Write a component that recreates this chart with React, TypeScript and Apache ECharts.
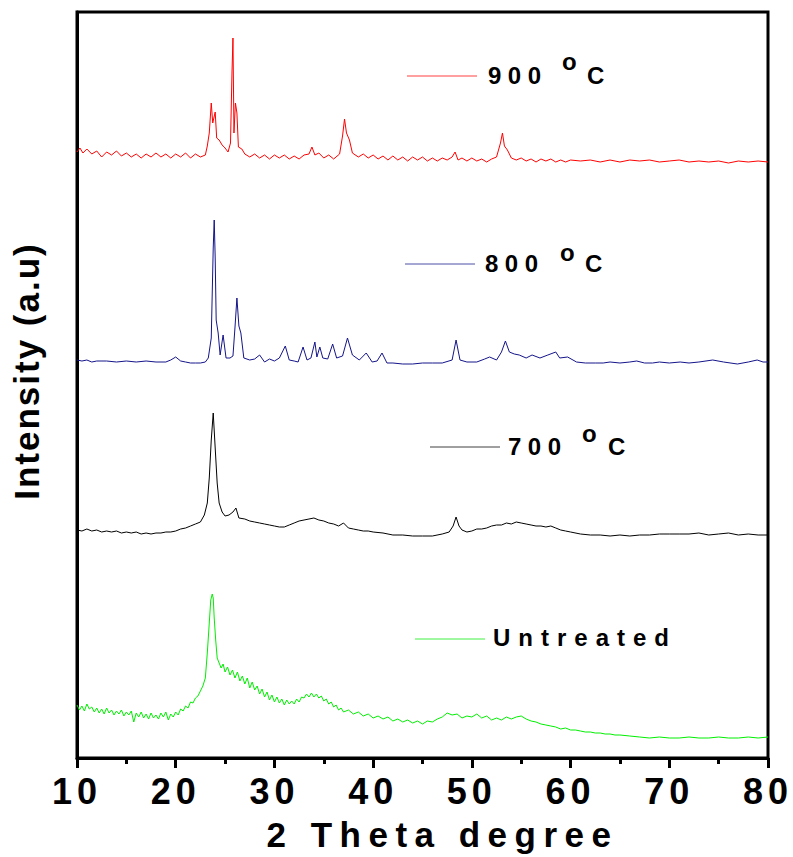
import React, { useEffect, useRef } from 'react';
import * as echarts from 'echarts';

// ---- data (x = 2θ in degrees, y = intensity in a.u., traces stacked) ----
const X_MIN = 10;
const X_MAX = 80;
const X_STEP = 10;
const X_TITLE = '2 Theta degree';
const Y_TITLE = 'Intensity (a.u)';
const SERIES_NAMES = ['900 °C', '800 °C', '700 °C', 'Untreated'];
const TEMP_LABELS = ['900', '800', '700'];
const UNTREATED_LABEL = 'Untreated';

const untreated: [number, number][] = [
  [10, 53], [10.25, 48], [10.5, 52], [10.75, 47], [11, 54], [11.25, 49], [11.5, 51], [11.75, 46],
  [12, 50], [12.25, 45], [12.5, 49], [12.75, 44], [13, 50], [13.25, 45], [13.5, 48], [13.75, 43],
  [14, 47], [14.25, 44], [14.5, 48], [14.75, 42], [15, 46], [15.25, 43], [15.5, 47], [15.75, 36],
  [16, 45], [16.25, 41], [16.5, 46], [16.75, 40], [17, 44], [17.25, 39], [17.5, 45], [17.75, 40],
  [18, 43], [18.25, 39], [18.5, 45], [18.75, 41], [19, 46], [19.25, 38], [19.5, 44], [19.75, 41],
  [20, 46], [20.25, 43], [20.5, 49], [20.75, 47], [21, 52], [21.25, 50], [21.5, 56], [21.75, 55],
  [22, 60], [22.25, 62], [22.5, 67], [22.75, 72], [23, 80], [23.2, 105], [23.4, 135], [23.55, 158],
  [23.7, 164], [23.8, 160], [23.9, 140], [24.05, 118], [24.2, 100], [24.4, 95], [24.6, 90], [24.8, 94],
  [25, 86], [25.25, 91], [25.5, 83], [25.75, 88], [26, 80], [26.25, 86], [26.5, 77], [26.75, 82],
  [27, 74], [27.25, 80], [27.5, 70], [27.75, 76], [28, 68], [28.25, 72], [28.5, 64], [28.75, 69],
  [29, 61], [29.25, 66], [29.5, 58], [29.75, 63], [30, 56], [30.25, 61], [30.5, 55], [30.75, 59],
  [31, 53], [31.25, 58], [31.5, 54], [31.75, 57], [32, 54], [32.25, 59], [32.5, 56], [32.75, 61],
  [33, 60], [33.25, 64], [33.5, 61], [33.75, 65], [34, 61], [34.25, 64], [34.5, 60], [34.75, 62],
  [35, 57], [35.25, 59], [35.5, 54], [35.75, 56], [36, 51], [36.25, 53], [36.5, 48], [36.75, 50],
  [37, 46], [37.5, 48], [38, 44], [38.5, 46], [39, 42], [39.5, 44], [40, 40], [40.5, 42],
  [41, 39], [41.5, 41], [42, 37], [42.5, 39], [43, 36], [43.5, 38], [44, 35], [44.5, 37],
  [45, 34], [45.5, 37], [46, 36], [46.5, 39], [47, 41], [47.5, 45], [48, 43], [48.5, 44],
  [49, 40], [49.5, 42], [50, 41], [50.5, 44], [51, 40], [51.5, 42], [52, 38], [52.5, 40],
  [53, 38], [53.5, 41], [54, 39], [54.5, 41], [55, 42], [55.5, 39], [56, 37], [56.5, 36],
  [57, 34], [57.5, 33], [58, 32], [58.5, 31], [59, 29], [59.5, 30], [60, 28], [60.5, 28],
  [61, 27], [61.5, 26], [62, 26], [62.5, 25], [63, 25], [63.5, 24], [64, 24], [64.5, 23],
  [65, 23], [66, 22], [67, 21], [68, 20], [69, 21], [70, 20], [71, 20], [72, 21],
  [73, 20], [74, 20], [75, 21], [76, 20], [77, 20], [78, 21], [79, 20], [80, 21],
];

const t700: [number, number][] = [
  [10, 228], [10.5, 227], [11, 229], [11.5, 227], [12, 228], [12.5, 226], [13, 227], [13.5, 226],
  [14, 227], [14.5, 225], [15, 226], [15.5, 225], [16, 226], [16.5, 224], [17, 225], [17.5, 224],
  [18, 225], [18.5, 225], [19, 226], [19.5, 226], [20, 227], [20.5, 229], [21, 230], [21.5, 232],
  [22, 234], [22.5, 236], [22.9, 243], [23.2, 255], [23.4, 280], [23.6, 318], [23.8, 345], [24.0, 310],
  [24.2, 275], [24.4, 255], [24.7, 246], [25, 242], [25.4, 243], [25.8, 246], [26.1, 250], [26.4, 240],
  [27, 239], [27.5, 237], [28, 236], [28.5, 235], [29, 234], [29.5, 233], [30, 232], [30.5, 231],
  [31, 231], [31.5, 233], [32, 235], [32.5, 237], [33, 238], [33.5, 239], [34, 240], [34.5, 238],
  [35, 237], [35.5, 235], [36, 234], [36.5, 232], [37, 235], [37.5, 230], [38, 229], [38.5, 228],
  [39, 227], [39.5, 227], [40, 226], [41, 225], [42, 223], [43, 223], [44, 222], [45, 222],
  [46, 222], [47, 224], [47.7, 226], [48.1, 232], [48.4, 241], [48.7, 232], [49, 228], [49.5, 226],
  [50, 227], [50.5, 229], [51, 229], [51.5, 230], [52, 232], [52.5, 233], [53, 233], [53.5, 235],
  [54, 234], [54.5, 236], [55, 235], [55.5, 234], [56, 233], [56.5, 232], [57, 232], [57.5, 231],
  [58, 232], [58.5, 230], [59, 228], [59.5, 227], [60, 226], [61, 224], [62, 223], [63, 223],
  [64, 222], [65, 223], [66, 222], [67, 223], [68, 223], [69, 224], [70, 224], [71, 224],
  [72, 224], [73, 225], [74, 223], [75, 224], [76, 225], [77, 223], [78, 224], [79, 223], [80, 223],
];

const t800: [number, number][] = [
  [10, 398], [10.5, 397], [11, 398], [11.5, 396], [12, 397], [13, 397], [14, 396], [15, 397],
  [16, 396], [17, 397], [18, 396], [19, 396], [19.5, 398], [20, 401], [20.5, 397], [21, 396],
  [21.5, 395], [22, 395], [22.5, 395], [23, 396], [23.3, 400], [23.6, 420], [23.8, 510], [23.9, 538],
  [24.0, 500], [24.1, 438], [24.3, 425], [24.5, 403], [24.8, 423], [25.1, 400], [25.5, 400], [25.8, 402],
  [26.0, 430], [26.2, 460], [26.4, 432], [26.6, 425], [26.9, 400], [27.5, 398], [28, 399], [28.5, 403],
  [29, 396], [29.5, 399], [30, 397], [30.5, 400], [31.1, 412], [31.5, 398], [32, 397], [32.4, 396],
  [32.9, 411], [33.3, 398], [33.7, 400], [34.1, 416], [34.3, 401], [34.6, 411], [34.9, 400], [35.4, 399],
  [35.9, 414], [36.3, 400], [36.9, 402], [37.4, 420], [37.9, 403], [38.6, 398], [39.3, 405], [39.9, 396],
  [40.4, 397], [40.9, 405], [41.4, 395], [42, 395], [43, 394], [44, 394], [45, 395], [46, 395],
  [47, 395], [48, 398], [48.4, 418], [48.8, 398], [49.5, 396], [50.5, 396], [51.3, 399], [51.8, 401],
  [52.5, 398], [53, 406], [53.4, 417], [53.8, 406], [54.3, 404], [54.8, 403], [55.5, 400], [56.1, 403],
  [56.9, 400], [57.7, 403], [58.5, 406], [58.9, 400], [59.7, 401], [60.6, 396], [61.5, 395], [62.5, 395],
  [63.3, 395], [64, 396], [65, 395], [66, 396], [66.7, 397], [67.5, 395], [68.3, 395], [69, 396],
  [70, 395], [71.1, 396], [72, 395], [73, 396], [74.4, 398], [75.5, 396], [76.9, 394], [78, 396],
  [78.9, 398], [79.5, 396], [80, 396],
];

const t900: [number, number][] = [
  [10, 606], [10.3, 610], [10.6, 605], [11, 609], [11.5, 604], [12, 607], [12.5, 601], [13, 606],
  [13.5, 603], [14, 607], [14.5, 602], [15, 605], [15.5, 601], [16, 604], [16.5, 600], [17, 604],
  [17.5, 601], [18, 605], [18.5, 601], [19, 604], [19.5, 600], [20, 604], [20.5, 601], [21, 605],
  [21.5, 600], [22, 604], [22.5, 601], [23, 603], [23.2, 612], [23.4, 625], [23.6, 655], [23.75, 635],
  [24.0, 646], [24.15, 620], [24.4, 618], [24.7, 613], [25, 610], [25.3, 606], [25.55, 615], [25.7, 685],
  [25.8, 720], [25.9, 625], [26.05, 655], [26.2, 645], [26.35, 611], [26.7, 609], [27, 604], [27.5, 601],
  [28, 604], [28.5, 600], [29, 603], [29.5, 599], [30, 603], [30.5, 600], [31, 603], [31.5, 599],
  [32, 602], [32.5, 599], [33, 603], [33.5, 604], [33.8, 611], [34.1, 603], [34.5, 605], [35, 600],
  [35.5, 603], [36, 599], [36.6, 604], [36.9, 622], [37.1, 639], [37.3, 625], [37.6, 618], [37.9, 605],
  [38.5, 601], [39, 604], [39.5, 600], [40, 603], [40.5, 599], [41, 602], [41.5, 598], [42, 602],
  [42.5, 598], [43, 601], [43.5, 597], [44, 601], [44.5, 598], [45, 601], [45.5, 597], [46, 600],
  [46.5, 597], [47, 600], [47.5, 598], [48, 601], [48.3, 606], [48.6, 598], [49, 600], [49.5, 597],
  [50, 600], [50.5, 597], [51, 599], [51.5, 596], [52, 599], [52.5, 601], [52.9, 615], [53.1, 625],
  [53.3, 612], [53.6, 608], [54, 600], [54.5, 598], [55, 600], [55.5, 597], [56, 599], [56.5, 596],
  [57, 599], [57.5, 597], [58, 599], [58.5, 596], [59, 598], [59.5, 596], [60, 598], [61, 597],
  [62, 598], [63, 596], [64, 598], [65, 596], [66, 598], [67, 597], [68, 598], [69, 596],
  [70, 597], [71, 598], [72, 596], [73, 597], [74, 596], [75, 597], [76, 595], [77, 597],
  [78, 596], [79, 597], [80, 596],
];

const SERIES_DATA = [t900, t800, t700, untreated];
const SERIES_COLORS = ['#ff0000', '#14148a', '#000000', '#00ee00'];

export default function App() {
  const ref = useRef<HTMLDivElement>(null);

  useEffect(() => {
    const el = ref.current;
    if (!el) return;
    const chart = echarts.init(el, null, { renderer: 'svg' });
    const FONT = '"Liberation Sans", Arial, Helvetica, sans-serif';

    // legend layout (pixel placement of the in-plot labels)
    const legendLayout = [
      { y: 75, lx1: 407, lx2: 477, tx: 488, ox: 562, oy: 61, cx: 587 },
      { y: 263, lx1: 405, lx2: 475, tx: 485, ox: 560, oy: 252, cx: 585 },
      { y: 446, lx1: 430, lx2: 500, tx: 508, ox: 582, oy: 433, cx: 608 },
    ];

    const graphics: any[] = [];
    TEMP_LABELS.forEach((lab, i) => {
      const L = legendLayout[i];
      graphics.push({
        type: 'line', silent: true,
        shape: { x1: L.lx1, y1: L.y + 1, x2: L.lx2, y2: L.y + 1 },
        style: { stroke: SERIES_COLORS[i], lineWidth: 1, opacity: 0.75 },
      });
      graphics.push({
        type: 'text', silent: true, x: L.tx, y: L.y,
        style: { text: lab, font: `bold 24px ${FONT}`, fill: '#000', align: 'left', verticalAlign: 'middle' },
      });
      graphics.push({
        type: 'text', silent: true, x: L.ox, y: L.oy,
        style: { text: 'o', font: `bold 24px ${FONT}`, fill: '#000', align: 'left', verticalAlign: 'middle' },
      });
      graphics.push({
        type: 'text', silent: true, x: L.cx, y: L.y,
        style: { text: 'C', font: `bold 24px ${FONT}`, fill: '#000', align: 'left', verticalAlign: 'middle' },
      });
    });
    graphics.push({
      type: 'line', silent: true,
      shape: { x1: 415, y1: 639, x2: 485, y2: 639 },
      style: { stroke: SERIES_COLORS[3], lineWidth: 1, opacity: 0.75 },
    });
    graphics.push({
      type: 'text', silent: true, x: 493, y: 637,
      style: { text: UNTREATED_LABEL, font: `bold 24px ${FONT}`, fill: '#000', align: 'left', verticalAlign: 'middle' },
    });
    // y-axis title, rotated
    graphics.push({
      type: 'text', silent: true, x: 26, y: 371, rotation: Math.PI / 2,
      style: { text: Y_TITLE, font: `bold 35px ${FONT}`, fill: '#000', align: 'center', verticalAlign: 'middle' },
    });

    chart.setOption({
      animation: false,
      backgroundColor: '#fff',
      textStyle: { fontFamily: FONT },
      grid: {
        left: 77, right: 25, top: 12, bottom: 99,
        show: true, borderColor: '#000', borderWidth: 3, backgroundColor: 'transparent',
      },
      xAxis: {
        type: 'value', min: X_MIN, max: X_MAX, interval: X_STEP,
        name: X_TITLE, nameLocation: 'middle', nameGap: 59,
        nameTextStyle: { fontSize: 35, fontWeight: 'bold', color: '#000', fontFamily: FONT, padding: [0, 0, 0, 40] },
        axisLine: { lineStyle: { color: '#000', width: 3 } },
        axisTick: { show: true, length: 10, lineStyle: { color: '#000', width: 3 } },
        minorTick: { show: true, splitNumber: 2, length: 6, lineStyle: { color: '#000', width: 3 } },
        axisLabel: { fontSize: 36, fontWeight: 'bold', color: '#000', margin: 15, fontFamily: FONT },
        splitLine: { show: false },
      },
      yAxis: {
        type: 'value', min: 0, max: 746,
        axisLine: { show: true, lineStyle: { color: '#000', width: 3 } },
        axisTick: { show: false },
        axisLabel: { show: false },
        splitLine: { show: false },
      },
      series: SERIES_NAMES.map((name, i) => ({
        name, type: 'line', data: SERIES_DATA[i],
        showSymbol: false, symbol: 'none', silent: true,
        lineStyle: { width: 1, color: SERIES_COLORS[i] },
        itemStyle: { color: SERIES_COLORS[i] },
      })),
      graphic: graphics,
    });

    const applySpacing = () => {
      el.querySelectorAll('text').forEach((t) => {
        const s = t.textContent || '';
        let ls = '0px';
        if (s === X_TITLE) ls = '7.5px';
        else if (s === Y_TITLE) ls = '2px';
        else if (s === UNTREATED_LABEL) ls = '8px';
        else if (TEMP_LABELS.includes(s)) ls = '6.5px';
        else if (/^\d+$/.test(s)) ls = '5px';
        (t as SVGTextElement).style.letterSpacing = ls;
      });
    };
    chart.on('rendered', applySpacing);
    applySpacing();
    const id = window.setTimeout(applySpacing, 50);

    return () => {
      window.clearTimeout(id);
      chart.dispose();
    };
  }, []);

  return (
    <div
      ref={ref}
      style={{ position: 'absolute', left: 0, top: 0, width: 793, height: 857, background: '#fff' }}
    />
  );
}
